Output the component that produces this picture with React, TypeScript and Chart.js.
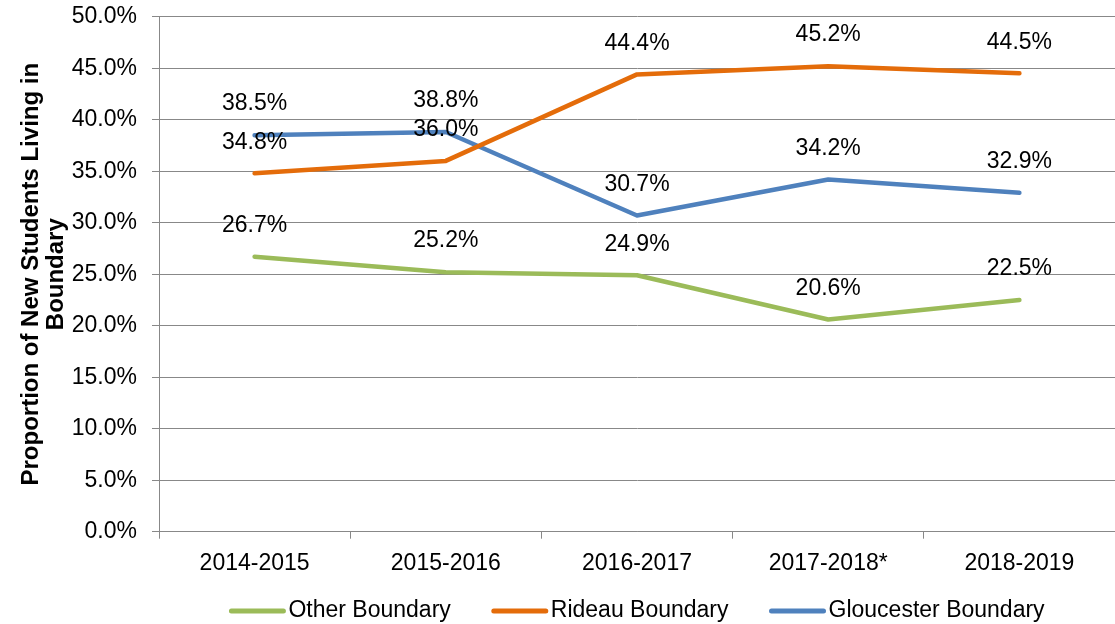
import React, { useEffect, useRef } from "react";
import { Chart, registerables } from "chart.js";

Chart.register(...registerables);

const categories = ["2014-2015", "2015-2016", "2016-2017", "2017-2018*", "2018-2019"];
const otherValues = [26.7, 25.2, 24.9, 20.6, 22.5];
const rideauValues = [34.8, 36.0, 44.4, 45.2, 44.5];
const gloucesterValues = [38.5, 38.8, 30.7, 34.2, 32.9];
const seriesNames = ["Other Boundary", "Rideau Boundary", "Gloucester Boundary"];
const seriesColors = ["#9BBB59", "#E46C0A", "#4F81BD"];
const yTitle = ["Proportion of New Students Living in", "Boundary"];

const FONT = "'Liberation Sans', Arial, sans-serif";
const FS = 23;

const labelPlugin = {
  id: "pointLabels",
  afterDatasetsDraw(chart: any) {
    const ctx = chart.ctx;
    ctx.save();
    ctx.font = `${FS}px ${FONT}`;
    ctx.fillStyle = "#000";
    ctx.textAlign = "center";
    ctx.textBaseline = "middle";
    chart.data.datasets.forEach((ds: any, i: number) => {
      const meta = chart.getDatasetMeta(i);
      meta.data.forEach((pt: any, j: number) => {
        ctx.fillText(ds.data[j].toFixed(1) + "%", pt.x, pt.y - 31);
      });
    });
    ctx.restore();
  },
};

const legendPlugin = {
  id: "customLegend",
  afterDraw(chart: any) {
    const ctx = chart.ctx;
    const area = chart.chartArea;
    ctx.save();
    ctx.font = `${FS}px ${FONT}`;
    const lineW = 56;
    const gapText = 3;
    const gapItem = 41;
    const widths = seriesNames.map((n) => ctx.measureText(n).width);
    const total =
      widths.reduce((a, b) => a + b, 0) + seriesNames.length * (lineW + gapText) + gapItem * (seriesNames.length - 1);
    let x = (area.left + area.right) / 2 - total / 2;
    const y = 611;
    seriesNames.forEach((n, i) => {
      ctx.strokeStyle = seriesColors[i];
      ctx.lineWidth = 5;
      ctx.lineCap = "round";
      ctx.beginPath();
      ctx.moveTo(x + 2, y);
      ctx.lineTo(x + lineW - 2, y);
      ctx.stroke();
      ctx.fillStyle = "#000";
      ctx.textAlign = "left";
      ctx.textBaseline = "middle";
      ctx.fillText(n, x + lineW + gapText, y);
      x += lineW + gapText + widths[i] + gapItem;
    });
    ctx.restore();
  },
};

export default function App() {
  const ref = useRef<HTMLCanvasElement | null>(null);
  useEffect(() => {
    if (!ref.current) return;
    const mk = (name: string, data: number[], color: string) => ({
      label: name,
      data,
      borderColor: color,
      backgroundColor: color,
      borderWidth: 4.5,
      pointRadius: 0,
      pointHoverRadius: 0,
      tension: 0,
      borderCapStyle: "round" as const,
      borderJoinStyle: "round" as const,
    });
    const chart = new Chart(ref.current, {
      type: "line",
      data: {
        labels: categories,
        datasets: [
          mk(seriesNames[0], otherValues, seriesColors[0]),
          mk(seriesNames[1], rideauValues, seriesColors[1]),
          mk(seriesNames[2], gloucesterValues, seriesColors[2]),
        ],
      },
      options: {
        animation: false,
        responsive: true,
        maintainAspectRatio: false,
        layout: { padding: { top: 16.7, right: 0, bottom: 0, left: 0 } },
        plugins: {
          legend: { display: false },
          tooltip: { enabled: false },
        },
        scales: {
          x: {
            type: "category",
            offset: true,
            grid: {
              offset: true,
              drawOnChartArea: false,
              drawTicks: true,
              tickLength: 7,
              color: "#888888",
              lineWidth: 1,
            },
            border: { color: "#888888", width: 1 },
            ticks: {
              color: "#000",
              font: { family: FONT, size: FS },
              padding: 11,
              maxRotation: 0,
              autoSkip: false,
            },
            afterFit(scale: any) {
              scale.height = 92.3;
              scale.paddingLeft = 0;
              scale.paddingRight = 0;
            },
          },
          y: {
            min: 0,
            max: 50,
            ticks: {
              stepSize: 5,
              color: "#000",
              font: { family: FONT, size: FS },
              padding: 15,
              callback: (v: any) => Number(v).toFixed(1) + "%",
            },
            grid: {
              drawOnChartArea: true,
              drawTicks: true,
              tickLength: 7,
              color: "#888888",
              lineWidth: 1,
            },
            border: { color: "#888888", width: 1 },
            title: {
              display: true,
              text: yTitle,
              color: "#000",
              font: { family: FONT, size: 24, weight: "bold", lineHeight: "25px" },
              padding: { top: 18.5, bottom: 0 },
            },
            afterFit(scale: any) {
              scale.width = 159;
              scale.paddingTop = 0;
              scale.paddingBottom = 0;
            },
          },
        },
      },
      plugins: [labelPlugin, legendPlugin],
    });
    return () => chart.destroy();
  }, []);
  return (
    <div style={{ position: "fixed", left: 0, top: 0, width: 1115, height: 624, background: "#fff" }}>
      <canvas ref={ref} />
    </div>
  );
}
